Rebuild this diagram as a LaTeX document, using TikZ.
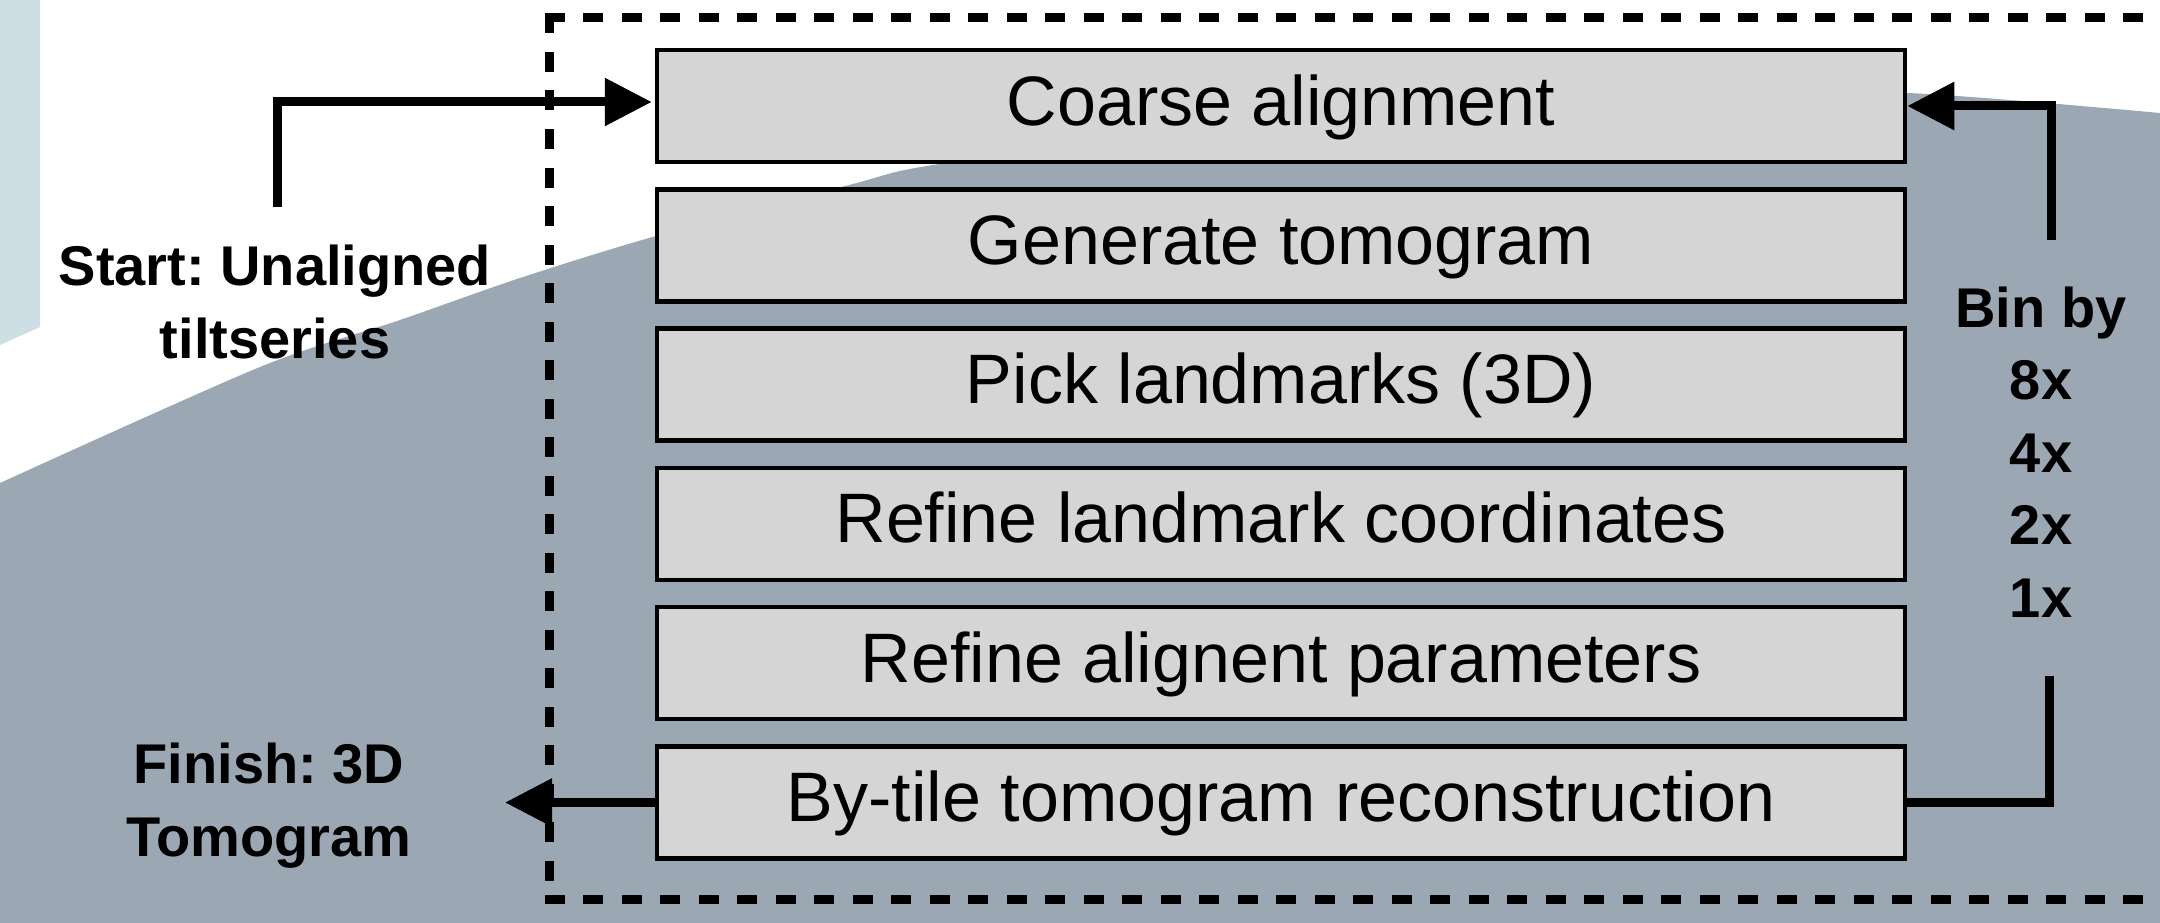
\documentclass[tikz,border=0pt]{standalone}
\usepackage{fontspec}
\setmainfont{Liberation Sans}
\usetikzlibrary{arrows.meta,calc}
\definecolor{bggray}{HTML}{9BA8B4}
\definecolor{paleblue}{HTML}{CDDEE5}
\definecolor{boxfill}{HTML}{D5D5D5}
\tikzset{
  stepbox/.style={draw=black, line width=4.5pt, fill=boxfill, minimum width=1248pt,
    minimum height=112pt, inner sep=0pt, text height=52pt, text depth=14pt,
    font=\fontsize{70}{84}\selectfont},
  lbl/.style={font=\bfseries\fontsize{56}{73.5}\selectfont, inner sep=0pt, anchor=base},
  flow/.style={line width=9pt, -{Triangle[length=47pt,width=46pt]}},
  plainflow/.style={line width=9pt},
  frame/.style={line width=9pt, line cap=rect, dash pattern=on 11pt off 27.5pt}
}
\frenchspacing
\begin{document}
\frenchspacing
\begin{tikzpicture}[x=1pt,y=-1pt]
\useasboundingbox (0,0) rectangle (2160,923);
\clip (0,0) rectangle (2160,923);
\fill[white] (0,0) rectangle (2160,923);
\fill[paleblue] (0,0) -- (40,0) -- (40,327) -- (0,345) -- cycle;
\fill[bggray] plot[smooth] coordinates {(0,483) (260,367) (400,320) (520,278) (656,236) (849,185) (946,163) (1300,118) (1700,95) (1907,93) (2160,113)} -- (2160,923) -- (0,923) -- cycle;

% dashed frame
\coordinate (fTL) at (549,18);
\coordinate (fBL) at (549,899);
\coordinate (fTR) at (2175,18);
\coordinate (fBR) at (2175,899);
\draw[frame] (fTL) -- (fTR);
\draw[frame] (fTL) -- (fBL);
\draw[frame] (fBL) -- (fBR);

% steps
\node[stepbox] (b1) at (1281,106) {Coarse alignment};
\node[stepbox] (b2) at (1281,245.3) {Generate tomogram};
\node[stepbox] (b3) at (1281,384.6) {Pick landmarks (3D)};
\node[stepbox] (b4) at (1281,523.9) {Refine landmark coordinates};
\node[stepbox] (b5) at (1281,663.2) {Refine alignent parameters};
\node[stepbox] (b6) at (1281,802.5) {By-tile tomogram reconstruction};

% labels
\node[lbl] (start) at (275,285) {\begin{tabular}[t]{@{}c@{}}Start: Unaligned\\tiltseries\end{tabular}};
\node[lbl] (finish) at (269,783) {\begin{tabular}[t]{@{}c@{}}Finish: 3D\\Tomogram\end{tabular}};
\node[lbl, font=\bfseries\fontsize{56}{72.5}\selectfont] (bin) at (2041,327) {\begin{tabular}[t]{@{}c@{}}Bin by\\8x\\4x\\2x\\1x\end{tabular}};

% connectors
\coordinate (sTail) at (277,207);
\draw[flow, shorten >=3pt] (sTail) |- ([yshift=4pt]b1.west);
\coordinate (binTop) at (2051,240);
\coordinate (binBot) at (2049,676);
\draw[flow] (binTop) |- (b1.east);
\draw[plainflow] (b6.east) -| (binBot);
\coordinate (fTip) at (505,802.5);
\draw[flow] (b6.west) -- (fTip);
\end{tikzpicture}
\end{document}
